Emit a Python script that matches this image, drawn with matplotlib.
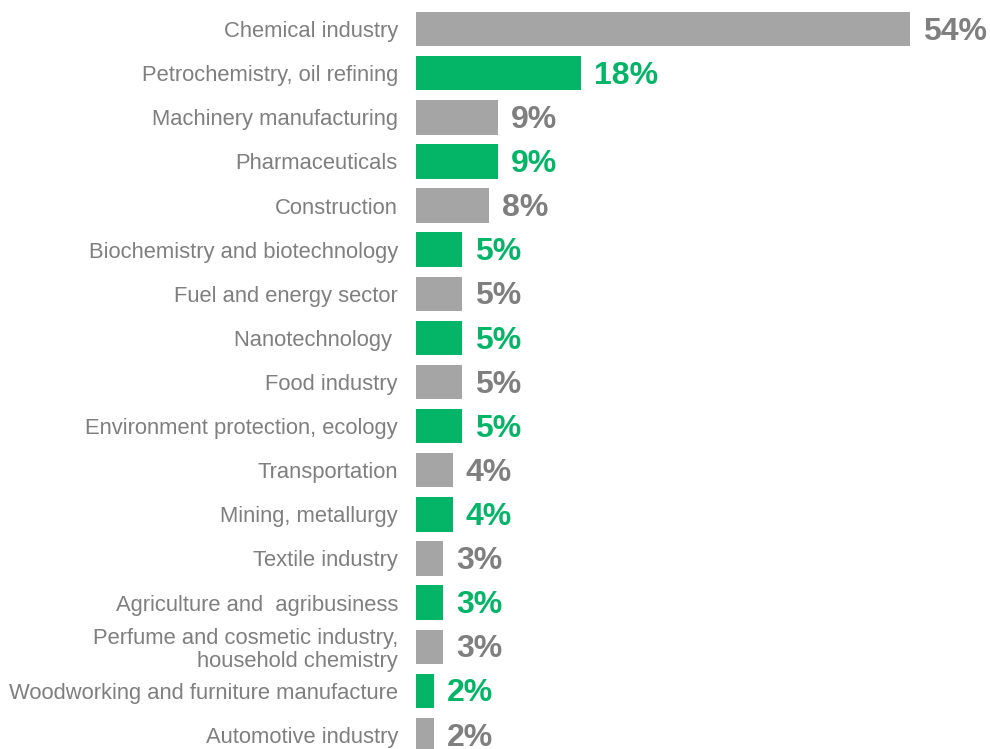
import matplotlib.pyplot as plt
from matplotlib import font_manager

names = {f.name for f in font_manager.fontManager.ttflist}
narrow = 'Liberation Sans Narrow' if 'Liberation Sans Narrow' in names else 'Liberation Sans'

categories = [
    "Chemical industry",
    "Petrochemistry, oil refining",
    "Machinery manufacturing",
    "Pharmaceuticals",
    "Construction",
    "Biochemistry and biotechnology",
    "Fuel and energy sector",
    "Nanotechnology ",
    "Food industry",
    "Environment protection, ecology",
    "Transportation",
    "Mining, metallurgy",
    "Textile industry",
    "Agriculture and  agribusiness",
    "Perfume and cosmetic industry,\nhousehold chemistry",
    "Woodworking and furniture manufacture",
    "Automotive industry",
]
values = [54, 18, 9, 9, 8, 5, 5, 5, 5, 5, 4, 4, 3, 3, 3, 2, 2]

gray = '#A5A5A5'
green = '#05B567'
text_gray = '#7F7F7F'
bar_colors = [gray if i % 2 == 0 else green for i in range(len(values))]
val_colors = [text_gray if i % 2 == 0 else green for i in range(len(values))]

fig = plt.figure(figsize=(9.9, 7.49), dpi=100)
ax = fig.add_axes([416 / 990, -8 / 749, 574 / 990, 750 / 749])

ypos = list(range(len(values)))
ax.barh(ypos, values, height=0.78, color=bar_colors)
ax.set_ylim(len(values) - 0.5, -0.5)
ax.set_xlim(0, 574 / 9.15)

ax.set_yticks(ypos)
ax.set_yticklabels(categories, fontsize=15.8, color=text_gray,
                   family=narrow, linespacing=1.1)
ax.tick_params(axis='y', length=0, pad=13)
ax.tick_params(axis='x', bottom=False, labelbottom=False)
for s in ax.spines.values():
    s.set_visible(False)

for y, v, c in zip(ypos, values, val_colors):
    ax.text(v + 1.4, y + 0.06, f"{v}%", va='center', ha='left', fontsize=23,
            fontweight='bold', color=c, family=narrow)

fig.savefig('out.png', dpi=100)
